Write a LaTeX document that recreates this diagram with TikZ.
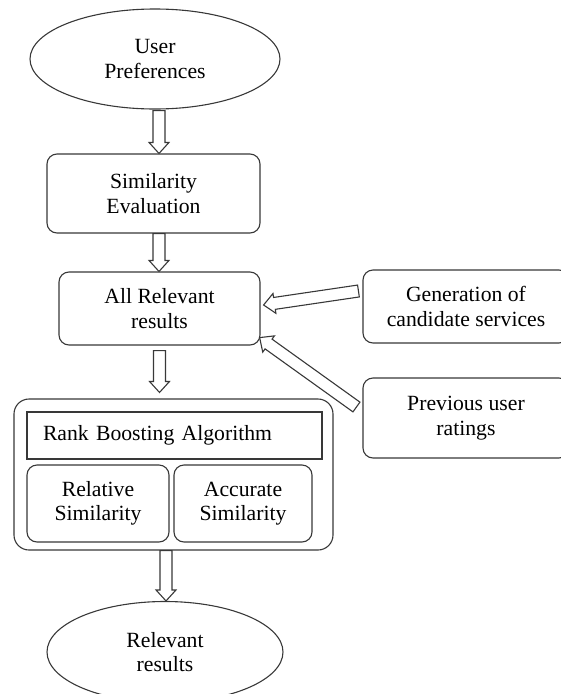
\documentclass[tikz,border=0pt]{standalone}
\usepackage{fontspec}
\setmainfont{Liberation Serif}
\usetikzlibrary{shapes.geometric,calc}
\definecolor{edge}{HTML}{383838}

% hollow block arrow from #1 to #2 (tip at #2)
\newcommand\blockarrow[2]{%
  \draw[barrow] let \p1=($(#2)-(#1)$), \n1={atan2(\y1,\x1)}, \n2={veclen(\x1,\y1)} in
    [shift={(#1)}, rotate=\n1]
    (0,-6) -- ({\n2-11},-6) -- ({\n2-11},-10) -- (\n2,0) -- ({\n2-11},10)
    -- ({\n2-11},6) -- (0,6) -- cycle;}

\begin{document}
\begin{tikzpicture}[x=1pt,y=1pt,
  every node/.style={font=\fontsize{21.7}{24.5}\selectfont, align=center, inner sep=0pt},
  oval/.style={ellipse, draw=edge, line width=1.1pt},
  rbox/.style={draw=edge, line width=1.1pt, rounded corners=10pt},
  sbox/.style={draw=edge, line width=1.1pt},
  barrow/.style={draw=edge, line width=1.1pt, fill=white, line join=miter}]
\useasboundingbox (0,0) rectangle (561,-694);
\clip (0,0) rectangle (561,-694);

% main column
\node[oval, minimum width=250pt, minimum height=100pt] (up) at (155,-59) {User\\Preferences};
\node[rbox, minimum width=213pt, minimum height=79pt] (sim) at (153.5,-193.5) {Similarity\\Evaluation};
\node[rbox, minimum width=201pt, minimum height=73pt] (all) at (159.5,-308.5) {All Relevant\\results};

% side inputs
\node[rbox, minimum width=206pt, minimum height=73pt] (gen) at (466,-306.5) {Generation of\\candidate services};
\node[rbox, minimum width=206pt, minimum height=80pt] (prev) at (466,-418) {Previous user\\ratings};

% rank boosting block
\node[rbox, rounded corners=15pt, minimum width=319pt, minimum height=151pt] (outer) at (173.5,-474.5) {};
\node[sbox, minimum width=295pt, minimum height=47pt, text width=263pt, align=left, inner xsep=16pt] (rba) at (174.5,-435.5) {Rank Boosting Algorithm};
\node[rbox, minimum width=142pt, minimum height=77pt] (rel) at (98,-503.5) {Relative\\Similarity};
\node[rbox, minimum width=138pt, minimum height=77pt] (acc) at (243,-503.5) {Accurate\\Similarity};

\node[oval, minimum width=236pt, minimum height=101pt] (res) at (165,-652) {Relevant\\results};

% arrow end points
\coordinate (a1s) at ($(up.south)+(4,-1)$);
\coordinate (a1e) at (a1s |- sim.north);
\coordinate (a2s) at ($(sim.south)+(5.5,0)$);
\coordinate (a2e) at (a2s |- all.north);
\coordinate (a3s) at ($(all.south)+(0,-5)$);
\coordinate (a3e) at ($(a3s |- outer.north)+(0,6)$);
\coordinate (a4s) at ($(outer.south)+(-7.5,0)$);
\coordinate (a4e) at (a4s |- res.north);
\coordinate (a5s) at ($(gen.west)+(-4,15.5)$);
\coordinate (a5e) at ($(all.east)+(3,3.5)$);
\coordinate (a6s) at ($(prev.west)+(-6,11)$);
\coordinate (a6e) at ($(all.south east)+(-1,8)$);

\blockarrow{a1s}{a1e}
\blockarrow{a2s}{a2e}
\blockarrow{a3s}{a3e}
\blockarrow{a4s}{a4e}
\blockarrow{a5s}{a5e}
\blockarrow{a6s}{a6e}
\end{tikzpicture}
\end{document}
